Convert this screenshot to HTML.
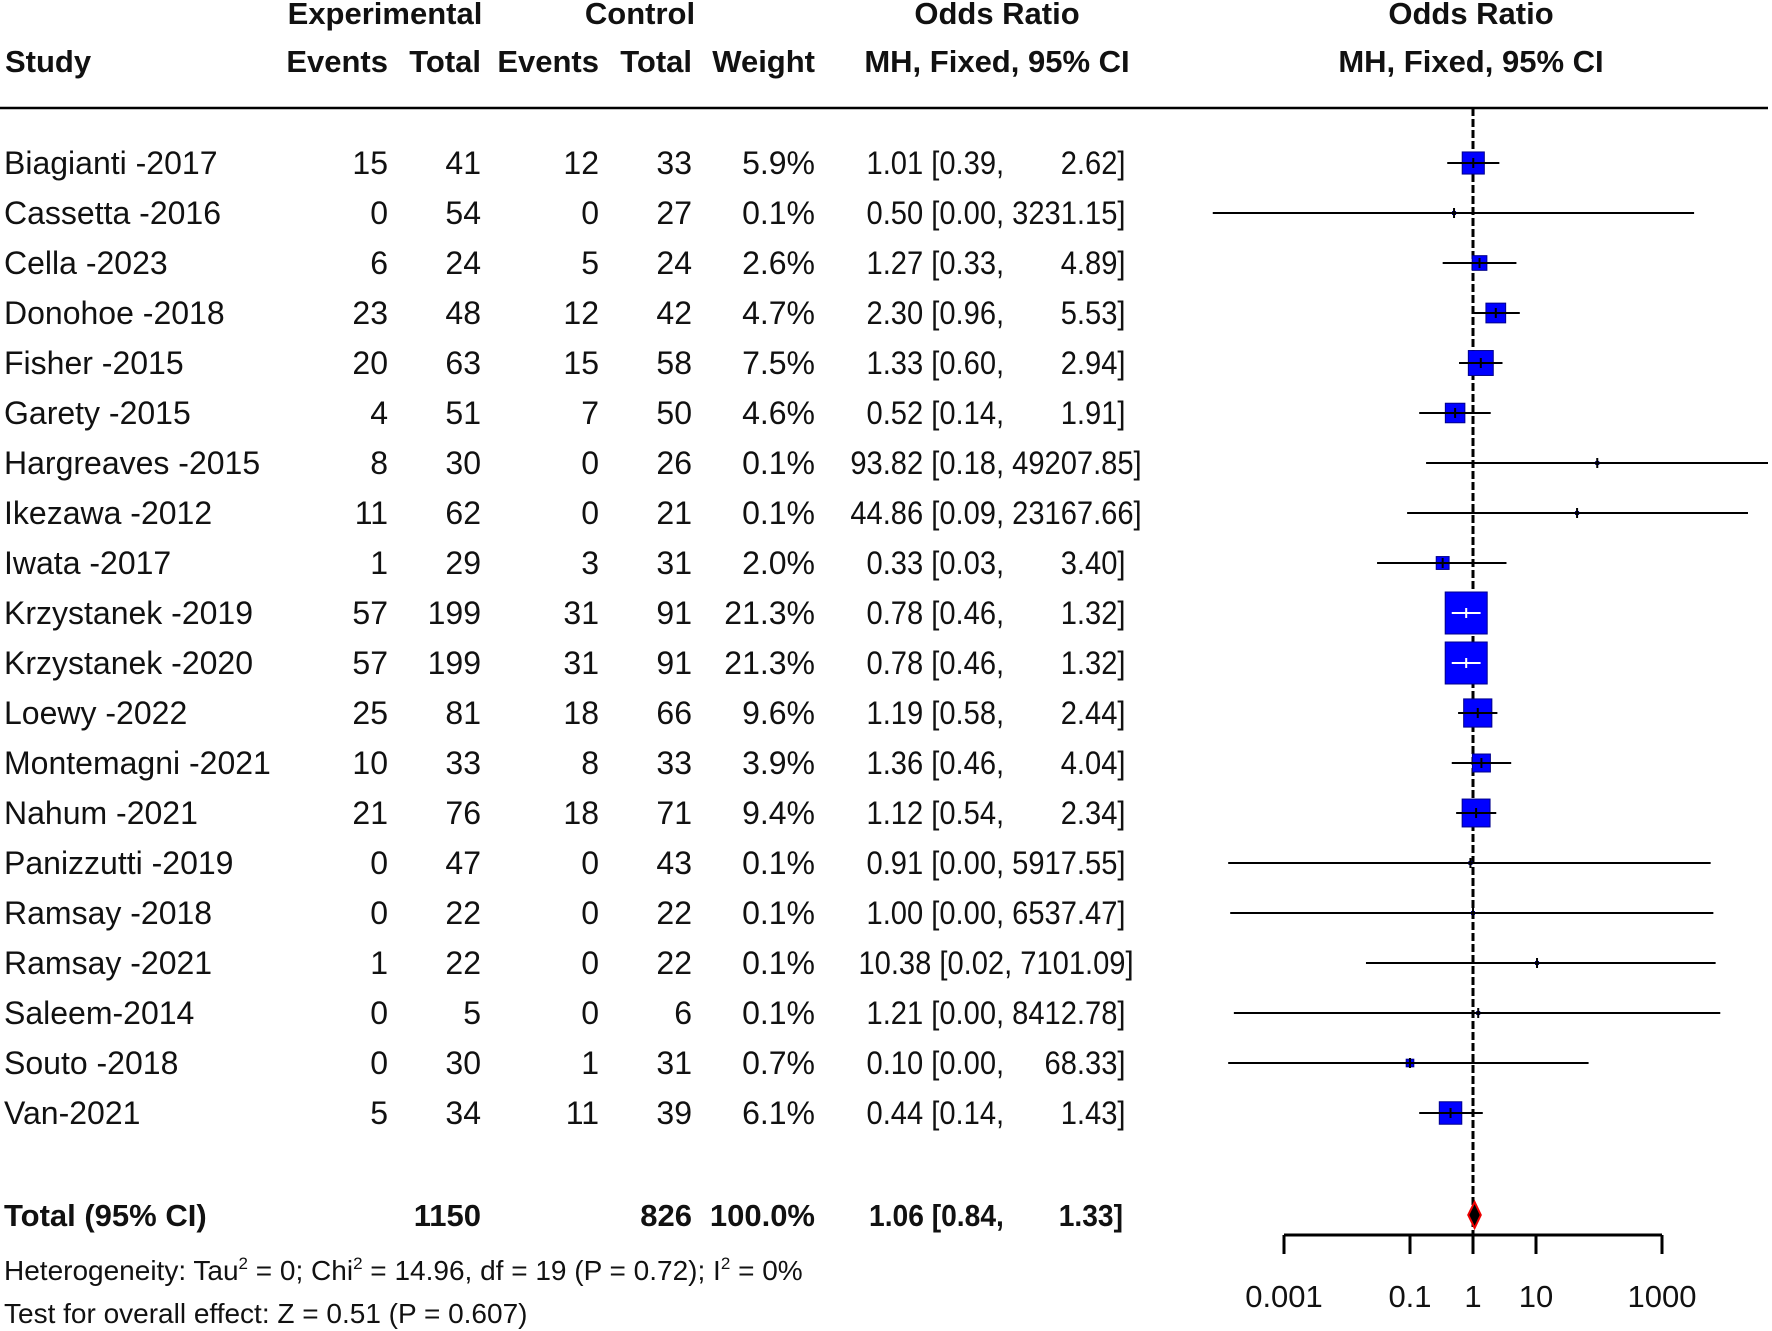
<!DOCTYPE html>
<html><head><meta charset="utf-8"><style>
html,body{margin:0;padding:0;background:#fff;}
svg{display:block;font-family:"Liberation Sans",Arial,sans-serif;}
</style></head><body>
<svg id="c" width="1772" height="1331" viewBox="0 0 1772 1331"></svg>
<script>
const studies=["Biagianti -2017","Cassetta -2016","Cella -2023","Donohoe -2018","Fisher -2015","Garety -2015","Hargreaves -2015","Ikezawa -2012","Iwata -2017","Krzystanek -2019","Krzystanek -2020","Loewy -2022","Montemagni -2021","Nahum -2021","Panizzutti -2019","Ramsay -2018","Ramsay -2021","Saleem-2014","Souto -2018","Van-2021"];
const expEvents=[15,0,6,23,20,4,8,11,1,57,57,25,10,21,0,0,1,0,0,5];
const expTotal=[41,54,24,48,63,51,30,62,29,199,199,81,33,76,47,22,22,5,30,34];
const ctlEvents=[12,0,5,12,15,7,0,0,3,31,31,18,8,18,0,0,0,0,1,11];
const ctlTotal=[33,27,24,42,58,50,26,21,31,91,91,66,33,71,43,22,22,6,31,39];
const weights=[5.9,0.1,2.6,4.7,7.5,4.6,0.1,0.1,2.0,21.3,21.3,9.6,3.9,9.4,0.1,0.1,0.1,0.1,0.7,6.1];
const orEst=[1.01,0.50,1.27,2.30,1.33,0.52,93.82,44.86,0.33,0.78,0.78,1.19,1.36,1.12,0.91,1.00,10.38,1.21,0.10,0.44];
const ciLo=[0.39,0.000074,0.33,0.96,0.60,0.14,0.18,0.09,0.03,0.46,0.46,0.58,0.46,0.54,0.00013,0.00014,0.02,0.00016,0.00013,0.14];
const ciHi=[2.62,3231.15,4.89,5.53,2.94,1.91,49207.85,23167.66,3.40,1.32,1.32,2.44,4.04,2.34,5917.55,6537.47,7101.09,8412.78,68.33,1.43];
const ciLoLabel=["0.39","0.00","0.33","0.96","0.60","0.14","0.18","0.09","0.03","0.46","0.46","0.58","0.46","0.54","0.00","0.00","0.02","0.00","0.00","0.14"];
const totalOR=[1.06,0.84,1.33];
const axisTicks=[0.001,0.1,1,10,1000];
const axisLabels=["0.001","0.1","1","10","1000"];

const svg=document.getElementById('c');
const NS="http://www.w3.org/2000/svg";
function mk(tag,attrs,parent){const e=document.createElementNS(NS,tag);for(const k in attrs)e.setAttribute(k,attrs[k]);(parent||svg).appendChild(e);return e;}
function txt(s,x,y,anchor,size,bold,name){const t=mk('text',{x:x,y:y,'text-anchor':anchor,'font-size':size,'font-weight':bold?'bold':'normal',fill:'#111'});t.textContent=s;


return t;}
function sqTxt(s,cx,y,size,bold,name){const t=mk('text',{x:0,y:0,transform:`translate(${cx},${y}) scale(0.91,1)`,'text-anchor':'middle','font-size':size,'font-weight':bold?'bold':'normal',fill:'#111'});t.textContent=s;


return t;}
function pad(s,n){while(s.length<n)s='\u2007'+s;return s;}
function orText(e,lo,hi){return e+' ['+lo+', '+pad(hi,7)+']';}
const X0=1473,DEC=63;
function xs(v){return X0+Math.log10(v)*DEC;}
function ys(i){return 163+i*50;}

txt("Experimental",385,24,'middle',31,true,'header-experimental');
txt("Control",640,24,'middle',31,true,'header-control');
txt("Odds Ratio",997,24,'middle',31,true,'header-odds-ratio');
txt("Odds Ratio",1471,24,'middle',31,true,'header-odds-ratio-plot');
txt("Study",5,72,'start',31,true,'header-study');
txt("Events",388,72,'end',31,true,'header-exp-events');
txt("Total",481,72,'end',31,true,'header-exp-total');
txt("Events",599,72,'end',31,true,'header-ctl-events');
txt("Total",692,72,'end',31,true,'header-ctl-total');
txt("Weight",815,72,'end',31,true,'header-weight');
txt("MH, Fixed, 95% CI",997,72,'middle',31,true,'header-mh-ci');
txt("MH, Fixed, 95% CI",1471,72,'middle',31,true,'header-mh-ci-plot');
const hl=mk('line',{x1:0,y1:108,x2:1768,y2:108,stroke:'#000','stroke-width':2.5});



const rl=mk('line',{x1:X0,y1:108,x2:X0,y2:1235,stroke:'#000','stroke-width':3,'stroke-dasharray':'8,3'});



studies.forEach((s,i)=>{
  const y=ys(i),b=y+11;
  txt(s,4,b,'start',32,false,'study-name');
  txt(String(expEvents[i]),388,b,'end',32,false,'exp-events');
  txt(String(expTotal[i]),481,b,'end',32,false,'exp-total');
  txt(String(ctlEvents[i]),599,b,'end',32,false,'ctl-events');
  txt(String(ctlTotal[i]),692,b,'end',32,false,'ctl-total');
  txt(weights[i].toFixed(1)+"%",815,b,'end',32,false,'weight');
  sqTxt(orText(orEst[i].toFixed(2),ciLoLabel[i],ciHi[i].toFixed(2)),996,b,32,false,'or-ci-text');
  const x1=Math.max(0,xs(ciLo[i])),x2=Math.min(1768,xs(ciHi[i])),xc=xs(orEst[i]);
  const sz=Math.max(3,42*Math.sqrt(weights[i]/21.3));
  const bx=mk('rect',{x:xc-sz/2,y:y-sz/2,width:sz,height:sz,fill:'#0000ff',stroke:'#00008b','stroke-width':1});
  
  
  const inside=(x1>=xc-sz/2&&x2<=xc+sz/2);
  const col=inside?'#fff':'#000';
  const ln=mk('line',{x1:x1,y1:y,x2:x2,y2:y,stroke:col,'stroke-width':2});
  
  
  const tk=mk('line',{x1:xc,y1:y-5,x2:xc,y2:y+5,stroke:col,'stroke-width':2});
  
  
});

const ty=1215,tb=ty+11;
txt("Total (95% CI)",4,tb,'start',31,true,'total-label');
txt("1150",481,tb,'end',31,true,'total-exp');
txt("826",692,tb,'end',31,true,'total-ctl');
txt("100.0%",815,tb,'end',31,true,'total-weight');
sqTxt(orText(totalOR[0].toFixed(2),totalOR[1].toFixed(2),totalOR[2].toFixed(2)),996,tb,31,true,'total-or-ci');
const dl=xs(totalOR[1]),dr=xs(totalOR[2]),dc=xs(totalOR[0]);
const dm=mk('polygon',{points:`${dl},${ty} ${dc},${ty-13} ${dr},${ty} ${dc},${ty+13}`,fill:'#000',stroke:'#e00','stroke-width':2});



const h=txt("",4,1280,'start',28,false,'heterogeneity-text');
h.innerHTML='Heterogeneity: Tau<tspan dy="-11" font-size="17">2</tspan><tspan dy="11"> = 0; Chi</tspan><tspan dy="-11" font-size="17">2</tspan><tspan dy="11"> = 14.96, df = 19 (P = 0.72); I</tspan><tspan dy="-11" font-size="17">2</tspan><tspan dy="11"> = 0%</tspan>';
txt("Test for overall effect: Z = 0.51 (P = 0.607)",4,1323,'start',28,false,'overall-effect-text');

const ax=mk('line',{x1:xs(axisTicks[0]),y1:1235,x2:xs(axisTicks[axisTicks.length-1]),y2:1235,stroke:'#000','stroke-width':3});


axisTicks.forEach((v,i)=>{
  const t=mk('line',{x1:xs(v),y1:1235,x2:xs(v),y2:1254,stroke:'#000','stroke-width':3});
  
  
  txt(axisLabels[i],xs(v),1307,'middle',31,false,'x-tick-label');
});
</script>
</body></html>
